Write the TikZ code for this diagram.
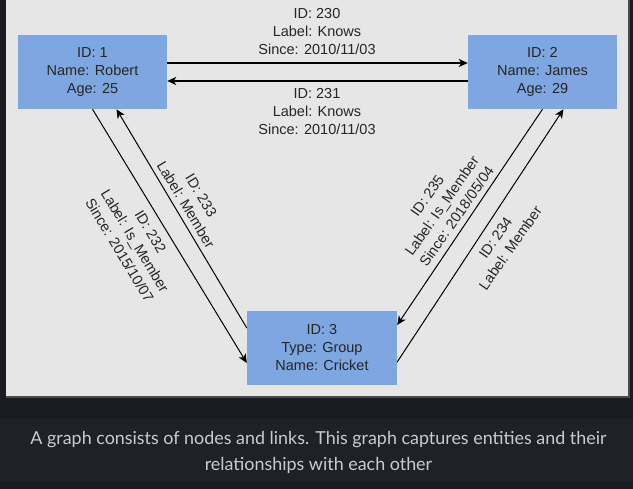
\documentclass[tikz,border=0pt]{standalone}
\usepackage{fontspec}
\setmainfont{Liberation Sans}
\newfontfamily\capfont{Lato}
\usetikzlibrary{arrows.meta,calc}
\definecolor{pagebg}{HTML}{1B1C23}
\definecolor{stripbg}{HTML}{202128}
\definecolor{panelbg}{HTML}{E6E6E6}
\definecolor{panelrim}{HTML}{4A4A4A}
\definecolor{nodefill}{HTML}{7EA6E0}
\definecolor{inktext}{HTML}{262626}
\definecolor{captext}{HTML}{C9CBD0}
\tikzset{
  entity/.style={fill=nodefill, minimum width=149pt, minimum height=74pt, inner sep=0pt,
    align=center, text=inktext, font=\fontsize{14.5}{18}\selectfont},
  elabel/.style={align=center, text=inktext, inner sep=0pt, font=\fontsize{14.5}{18}\selectfont},
  link/.style={draw=black, line width=1pt, -{Stealth[length=9pt,width=8pt,inset=2.5pt]}},
  hlink/.style={link, line width=1.4pt}
}
\begin{document}
\begin{tikzpicture}[x=1pt,y=-1pt]
\useasboundingbox (0,0) rectangle (633,489);
\fill[pagebg] (0,0) rectangle (633,489);
\fill[stripbg] (0,419) rectangle (633,481);
\fill[panelbg] (6,-2) rectangle (629,397);
\draw[panelrim, line width=1.5pt] (6,397) -- (629,397) -- (629,-2);

\node[entity] (n1) at (92.5,72) {ID: 1\\Name: Robert\\Age: 25};
\node[entity] (n2) at (542.5,72) {ID: 2\\Name: James\\Age: 29};
\node[entity, minimum width=150pt] (n3) at (322,348) {ID: 3\\Type: Group\\Name: Cricket};

\draw[hlink] ([yshift=9pt]n1.east) -- ([yshift=9pt]n2.west);
\draw[hlink] ([yshift=-9pt]n2.west) -- ([yshift=-9pt]n1.east);
\draw[link] (n1.south) -- ([yshift=-15pt]n3.west);
\draw[link] ([yshift=20pt]n3.west) -- ([xshift=24pt]n1.south);
\draw[link] (n2.south) -- ([yshift=23pt]n3.east);
\draw[link] ([yshift=-14pt]n3.east) -- ([xshift=21pt]n2.south);

\node[elabel] (l230) at (317,32) {ID: 230\\Label: Knows\\Since: 2010/11/03};
\node[elabel] (l231) at (317,112) {ID: 231\\Label: Knows\\Since: 2010/11/03};
\node[elabel, rotate=-59] (l232) at (135,241) {ID: 232\\Label: Is\_Member\\Since: 2015/10/07};
\node[elabel, rotate=-59] (l233) at (193.5,200) {ID: 233\\Label: Member};
\node[elabel, rotate=55] (l235) at (442,206) {ID: 235\\Label: Is\_Member\\Since: 2018/05/04};
\node[elabel, rotate=55] (l234) at (503,243) {ID: 234\\Label: Member};

\node[align=center, text=captext, font=\capfont\fontsize{17.9}{26}\selectfont] (cap) at (318.5,452)
  {A graph consists of nodes and links. This graph captures entities and their\\relationships with each other};
\end{tikzpicture}
\end{document}
